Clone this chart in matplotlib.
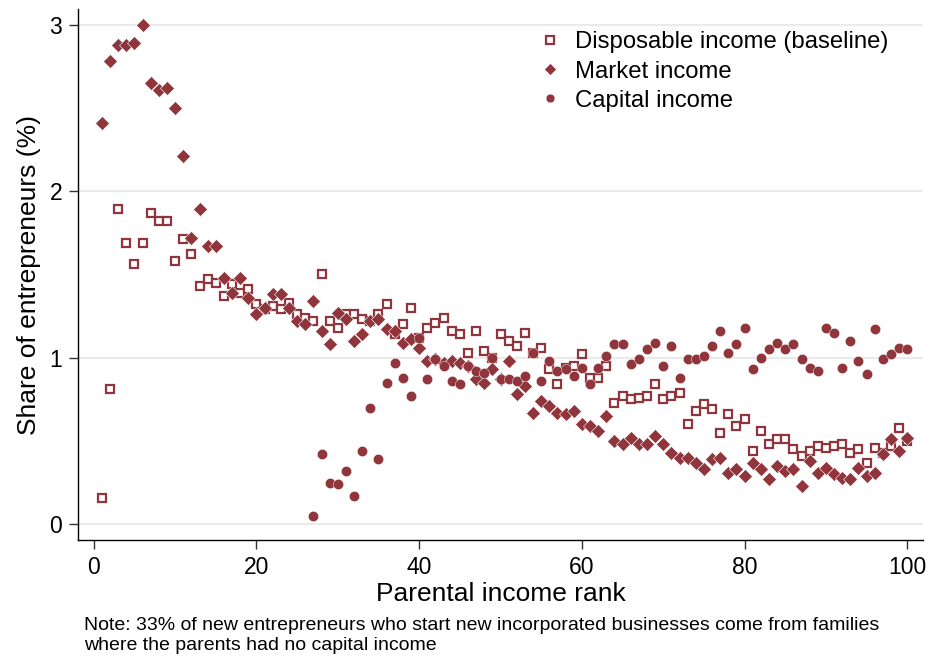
import matplotlib
matplotlib.use('Agg')
import matplotlib.pyplot as plt
import numpy as np

plt.rcParams['font.family'] = ['Liberation Sans', 'DejaVu Sans']

# parental income rank 1..100
ranks = list(range(1, 101))

disposable = [0.16, 0.81, 1.89, 1.69, 1.56, 1.69, 1.87, 1.82, 1.82, 1.58,
              1.71, 1.62, 1.43, 1.47, 1.45, 1.37, 1.44, 1.39, 1.41, 1.32,
              1.29, 1.31, 1.29, 1.33, 1.26, 1.24, 1.22, 1.50, 1.22, 1.18,
              1.26, 1.26, 1.23, 1.22, 1.26, 1.32, 1.14, 1.20, 1.30, 1.12,
              1.18, 1.21, 1.24, 1.16, 1.14, 1.03, 1.16, 1.04, 1.00, 1.14,
              1.10, 1.07, 1.15, 1.03, 1.06, 0.93, 0.84, 0.94, 0.95, 1.02,
              0.88, 0.88, 0.95, 0.73, 0.77, 0.75, 0.76, 0.77, 0.84, 0.75,
              0.77, 0.79, 0.60, 0.68, 0.72, 0.69, 0.55, 0.66, 0.59, 0.63,
              0.44, 0.56, 0.48, 0.51, 0.51, 0.45, 0.41, 0.44, 0.47, 0.46,
              0.47, 0.48, 0.43, 0.45, 0.37, 0.46, 0.43, 0.47, 0.58, 0.50]

market = [2.41, 2.78, 2.88, 2.88, 2.89, 3.00, 2.65, 2.61, 2.62, 2.50,
          2.21, 1.72, 1.89, 1.67, 1.67, 1.48, 1.39, 1.48, 1.36, 1.26,
          1.30, 1.38, 1.38, 1.30, 1.22, 1.20, 1.34, 1.16, 1.08, 1.27,
          1.23, 1.10, 1.14, 1.22, 1.23, 1.17, 1.16, 1.09, 1.11, 1.06,
          0.98, 0.99, 0.97, 0.98, 0.97, 0.95, 0.87, 0.85, 0.93, 0.87,
          0.98, 0.78, 0.83, 0.67, 0.74, 0.71, 0.67, 0.66, 0.68, 0.60,
          0.59, 0.56, 0.65, 0.50, 0.48, 0.52, 0.48, 0.48, 0.53, 0.48,
          0.43, 0.40, 0.40, 0.37, 0.33, 0.39, 0.40, 0.31, 0.33, 0.29,
          0.37, 0.33, 0.27, 0.35, 0.32, 0.33, 0.23, 0.38, 0.31, 0.34,
          0.30, 0.28, 0.27, 0.34, 0.29, 0.31, 0.42, 0.51, 0.44, 0.52]

# capital income only observed from rank 27 upward
capital_ranks = list(range(27, 101))
capital = [0.05, 0.42, 0.25, 0.24, 0.32, 0.17, 0.44, 0.70, 0.39, 0.85,
           0.97, 0.88, 0.77, 1.12, 0.87, 0.99, 0.95, 0.86, 0.84, 0.95,
           0.92, 0.91, 1.00, 0.87, 0.87, 0.86, 0.89, 1.03, 0.86, 0.98,
           0.92, 0.93, 0.89, 0.94, 0.84, 0.94, 1.01, 1.08, 1.08, 0.96,
           0.99, 1.05, 1.09, 0.95, 1.07, 0.88, 0.99, 0.99, 1.01, 1.07,
           1.16, 1.03, 1.08, 1.18, 0.93, 1.00, 1.05, 1.09, 1.05, 1.08,
           0.99, 0.94, 0.92, 1.18, 1.15, 0.94, 1.10, 0.98, 0.90, 1.17,
           0.99, 1.02, 1.06, 1.05]

col = '#90353B'

fig = plt.figure(figsize=(9.3, 6.57), dpi=100)
ax = fig.add_axes([0.0842, 0.178, 0.908, 0.808])

ax.plot(ranks, disposable, linestyle='none', marker='s', ms=6.4,
        mfc='white', mec=col, mew=1.6, label='Disposable income (baseline)')
ax.plot(ranks, market, linestyle='none', marker='D', ms=7.3,
        color=col, mec='white', mew=0.4, label='Market income')
ax.plot(capital_ranks, capital, linestyle='none', marker='o', ms=7.4,
        color=col, mec='white', mew=0.3, label='Capital income')

ax.set_xlim(-1.9, 101.9)
ax.set_ylim(-0.094, 3.092)
ax.set_xticks([0, 20, 40, 60, 80, 100])
ax.set_yticks([0, 1, 2, 3])
ax.grid(axis='y', color='#EAEAEA', linewidth=1.5)
ax.set_axisbelow(True)

for s in ['top', 'right']:
    ax.spines[s].set_visible(False)
ax.spines['left'].set_linewidth(1.0)
ax.spines['bottom'].set_linewidth(1.0)
ax.tick_params(axis='both', direction='out', length=6.5, width=1.0,
               labelsize=16.5, colors='#333333', labelcolor='black', pad=5)

ax.set_xlabel('Parental income rank', fontsize=19, labelpad=2)
ax.set_ylabel('Share of entrepreneurs (%)', fontsize=19, labelpad=6)

leg = ax.legend(loc='upper left', bbox_to_anchor=(0.527, 0.985), frameon=False,
                fontsize=17.2, handlelength=1.0, handletextpad=0.55,
                labelspacing=0.3, borderaxespad=0.2, markerscale=0.85)

fig.text(0.09, (657 - 617) / 657, 'Note: 33% of new entrepreneurs who start new incorporated businesses come from families\nwhere the parents had no capital income',
         fontsize=14, linespacing=1.2, va='top', ha='left')

fig.savefig('out.png', dpi=100)
